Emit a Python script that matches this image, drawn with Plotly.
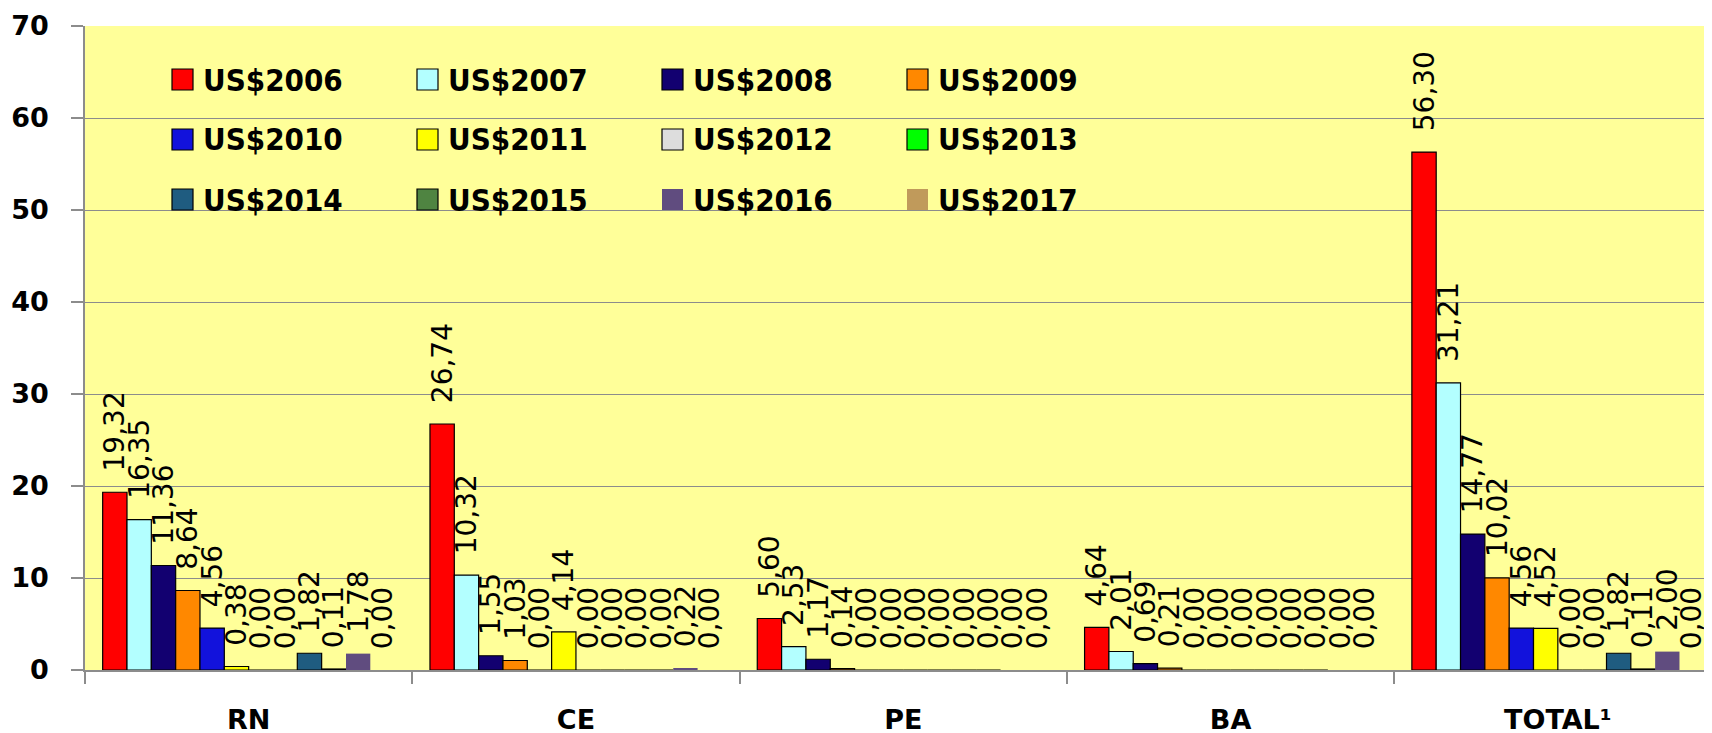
import plotly.graph_objects as go

categories = ["RN", "CE", "PE", "BA", "TOTAL¹"]
series_names = ["US$2006", "US$2007", "US$2008", "US$2009", "US$2010", "US$2011",
                "US$2012", "US$2013", "US$2014", "US$2015", "US$2016", "US$2017"]
v2006 = [19.32, 26.74, 5.60, 4.64, 56.30]
v2007 = [16.35, 10.32, 2.53, 2.01, 31.21]
v2008 = [11.36, 1.55, 1.17, 0.69, 14.77]
v2009 = [8.64, 1.03, 0.14, 0.21, 10.02]
v2010 = [4.56, 0.00, 0.00, 0.00, 4.56]
v2011 = [0.38, 4.14, 0.00, 0.00, 4.52]
v2012 = [0.00, 0.00, 0.00, 0.00, 0.00]
v2013 = [0.00, 0.00, 0.00, 0.00, 0.00]
v2014 = [1.82, 0.00, 0.00, 0.00, 1.82]
v2015 = [0.11, 0.00, 0.00, 0.00, 0.11]
v2016 = [1.78, 0.22, 0.00, 0.00, 2.00]
v2017 = [0.00, 0.00, 0.00, 0.00, 0.00]
series_values = [v2006, v2007, v2008, v2009, v2010, v2011,
                 v2012, v2013, v2014, v2015, v2016, v2017]
y_ticks = [0, 10, 20, 30, 40, 50, 60, 70]

colors = ["#FF0000", "#B3FFFF", "#120070", "#FF8800", "#1212DC", "#FFFF00",
          "#DDDDDD", "#00FF00", "#1F5C80", "#4F8441", "#604C7F", "#C09A5B"]
outline = ["#000000"] * 10 + ["rgba(0,0,0,0)", "rgba(0,0,0,0)"]

# the page body has an 8px margin; size the figure so the plot area lands
# at page x 85..1712, y 26..670
OFF = 8
W, H = 1712 - OFF, 733 - OFF
L, R, T, B = 85 - OFF, 0, 26 - OFF, 63
PW, PH = W - L - R, H - T - B
PLOT_LEFT, PLOT_BOTTOM = 85, 670  # page pixels

fig = go.Figure()
for name, vals, col, lc in zip(series_names, series_values, colors, outline):
    fig.add_trace(go.Bar(
        name=name, x=categories, y=vals,
        marker=dict(color=col, line=dict(color=lc, width=1.2)),
        text=["\u00a0\u00a0" + f"{v:.2f}".replace(".", ",") for v in vals],
        textposition="outside", textangle=-90, constraintext="none",
        cliponaxis=False,
        textfont=dict(family="DejaVu Sans", size=28, color="#000000"),
        showlegend=False,
    ))

# custom legend (4 columns x 3 rows)
shapes = []
annotations = []
for i, (name, col, lc) in enumerate(zip(series_names, colors, outline)):
    c, r = i % 4, i // 4
    x0 = 172 + c * 245
    yc = 79.5 + r * 60
    shapes.append(dict(type="rect", xref="paper", yref="paper",
                       x0=(x0 - PLOT_LEFT) / PW, x1=(x0 + 21 - PLOT_LEFT) / PW,
                       y0=(PLOT_BOTTOM - (yc + 10.5)) / PH, y1=(PLOT_BOTTOM - (yc - 10.5)) / PH,
                       fillcolor=col, line=dict(color=lc, width=1.2), layer="above"))
    annotations.append(dict(xref="paper", yref="paper",
                            x=(x0 + 29 - PLOT_LEFT) / PW, y=(PLOT_BOTTOM - yc) / PH,
                            xanchor="left", yanchor="middle", showarrow=False,
                            text="<b>" + name + "</b>",
                            font=dict(family="DejaVu Sans Condensed, DejaVu Sans", size=31, color="#000000")))

fig.update_layout(
    width=W, height=H,
    margin=dict(l=L, r=R, t=T, b=B, pad=0, autoexpand=False),
    paper_bgcolor="#FFFFFF", plot_bgcolor="#FFFF99",
    barmode="group", bargap=0.108, bargroupgap=0,
    uniformtext=dict(minsize=28, mode="show"),
    shapes=shapes, annotations=annotations,
    font=dict(family="DejaVu Sans", color="#000000"),
)
fig.update_yaxes(range=[0, 70], tickvals=y_ticks, ticktext=[str(t) for t in y_ticks],
                 automargin=False,
                 showgrid=True, gridcolor="#8C8C8C", gridwidth=1.3,
                 showline=True, linecolor="#8C8C8C", linewidth=1.5,
                 ticks="outside", ticklen=12, tickcolor="#8C8C8C", tickwidth=1.5,
                 ticklabelstandoff=17, zeroline=False,
                 tickfont=dict(family="DejaVu Sans", size=27, color="#000000", weight="bold"))
fig.update_xaxes(range=[-0.5, 4.471], tickson="boundaries", automargin=False,
                 showline=True, linecolor="#8C8C8C", linewidth=1.5,
                 ticks="outside", ticklen=12, tickcolor="#8C8C8C", tickwidth=1.5,
                 ticklabelstandoff=25, showgrid=False,
                 tickfont=dict(family="DejaVu Sans", size=27, color="#000000", weight="bold"))

fig.write_html("out.html")
